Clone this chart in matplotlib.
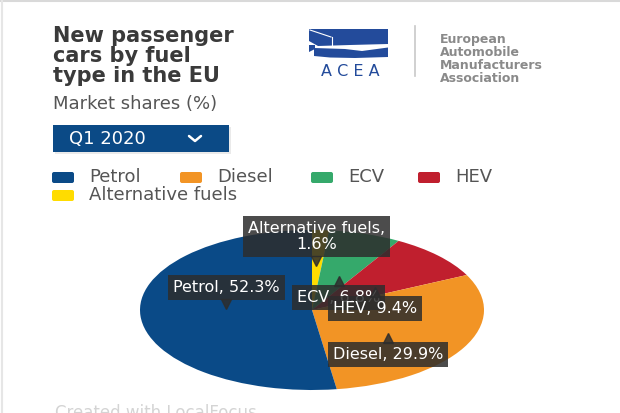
import numpy as np
import matplotlib.pyplot as plt
from matplotlib import transforms
from matplotlib.patches import FancyBboxPatch, Polygon, Rectangle

# pie slices, clockwise from 12 o'clock
fuels = ["Alternative fuels", "ECV", "HEV", "Diesel", "Petrol"]
shares = [1.6, 6.8, 9.4, 29.9, 52.3]
fuel_colors = ["#ffdc00", "#35a96b", "#c01f2e", "#f29425", "#0a4a87"]

legend_order = ["Petrol", "Diesel", "ECV", "HEV", "Alternative fuels"]
title = "New passenger\ncars by fuel\ntype in the EU"
subtitle = "Market shares (%)"
period = "Q1 2020"
acea_name = "European\nAutomobile\nManufacturers\nAssociation"
footer = "Created with LocalFocus"

W, H = 620, 413
fig = plt.figure(figsize=(W / 100, H / 100), dpi=100)
fig.patch.set_facecolor("white")

# overlay axes in pixel coordinates (y downwards) for the page furniture
bg = fig.add_axes([0, 0, 1, 1])
bg.set_xlim(0, W)
bg.set_ylim(H, 0)
bg.axis("off")

# faint frame of the embed
bg.plot([0, W], [1, 1], color="#d9d9d9", lw=1.5)
bg.plot([1.5, 1.5], [0, H], color="#e6e6e6", lw=1.5)

bg.text(53, 26, title, fontsize=15, fontweight="bold", color="#3a3a3a",
        va="top", ha="left", linespacing=1.0)
bg.text(53, 104, subtitle, fontsize=13, color="#555555", va="center", ha="left")

# ACEA logo
blue = "#234b9b"
bg.add_patch(Polygon([(309, 29), (388, 29), (388, 44), (350, 45), (318, 46), (309, 41)],
                     closed=True, fc=blue, ec="none"))
bg.plot([310, 331], [30, 37], color="white", lw=0.8)
bg.plot([332, 332], [37, 45], color="white", lw=0.8)
bg.add_patch(Polygon([(314, 48), (345, 49), (362, 51), (388, 47.5), (388, 57), (355, 58),
                      (330, 57.5), (314, 56)], closed=True, fc=blue, ec="none"))
bg.add_patch(Polygon([(309, 45), (315, 45), (315, 49), (309, 52)], closed=True, fc=blue, ec="none"))
bg.text(350, 71, "A C E A", fontsize=11.5, color=blue, ha="center", va="center")
bg.plot([415, 415], [26, 76], color="#c8c8c8", lw=1.2)
bg.text(440, 33, acea_name, fontsize=9, color="#8a8a8a", ha="left", va="top",
        linespacing=1.0, fontweight="bold")

# period selector
bg.add_patch(Rectangle((55, 127), 176, 27, fc="#dddddd", ec="none", alpha=0.6))
bg.add_patch(Rectangle((53, 125), 176, 27, fc="#0b4a86", ec="none"))
bg.text(69, 139, period, fontsize=13, color="white", va="center", ha="left")
bg.plot([189, 195, 201], [136, 141, 136], color="white", lw=1.8, solid_capstyle="round")

# legend
legend_xy = [(52, 172), (180, 172), (311, 172), (418, 172), (52, 190)]
for name, (lx, ly) in zip(legend_order, legend_xy):
    col = fuel_colors[fuels.index(name)]
    bg.add_patch(FancyBboxPatch((lx, ly), 22, 11, boxstyle="round,pad=0,rounding_size=2",
                                fc=col, ec="none"))
    bg.text(lx + 37, ly + 5.5, name, fontsize=13, color="#555555", va="center", ha="left")

bg.text(55, 404, footer, fontsize=12, color="#d4d4d4", va="top", ha="left")

# the (elliptical) pie
pie_ax = fig.add_axes([140 / W, (H - 390) / H, 344 / W, 160 / H])
wedges, _ = pie_ax.pie(shares, colors=fuel_colors, startangle=90, counterclock=False,
                       radius=1, wedgeprops=dict(linewidth=0))
pie_ax.set_aspect("auto")
pie_ax.set_xlim(-1, 1)
pie_ax.set_ylim(-1, 1)

# tooltip-style labels
above = {"Alternative fuels": True, "Petrol": True}
zorders = {"Alternative fuels": 5, "ECV": 4, "HEV": 6, "Diesel": 6, "Petrol": 6}
box_fc = "#2d2d2d"
for w, name, val in zip(wedges, fuels, shares):
    mid = np.deg2rad((w.theta1 + w.theta2) / 2)
    ax_, ay_ = 0.5 * np.cos(mid), 0.5 * np.sin(mid)
    up = above.get(name, False)
    sgn = 1 if up else -1
    txt = f"{name},\n{val}%" if name == "Alternative fuels" else f"{name}, {val}%"
    z = zorders[name]
    pie_ax.annotate(txt, xy=(ax_, ay_), xytext=(0, sgn * 18), textcoords="offset pixels",
                    ha="center", va="bottom" if up else "top", fontsize=11.5,
                    color="white", linespacing=1.05, annotation_clip=False, zorder=z,
                    bbox=dict(boxstyle="square,pad=0.32", fc=box_fc, ec="none", alpha=0.85))
    tr = transforms.offset_copy(pie_ax.transData, fig=fig, x=0, y=sgn * 9, units="dots")
    pie_ax.plot([ax_], [ay_], marker="v" if up else "^", ms=7, color=box_fc, alpha=0.85,
                transform=tr, clip_on=False, zorder=z)

fig.savefig("out.png", dpi=100, facecolor="white")
